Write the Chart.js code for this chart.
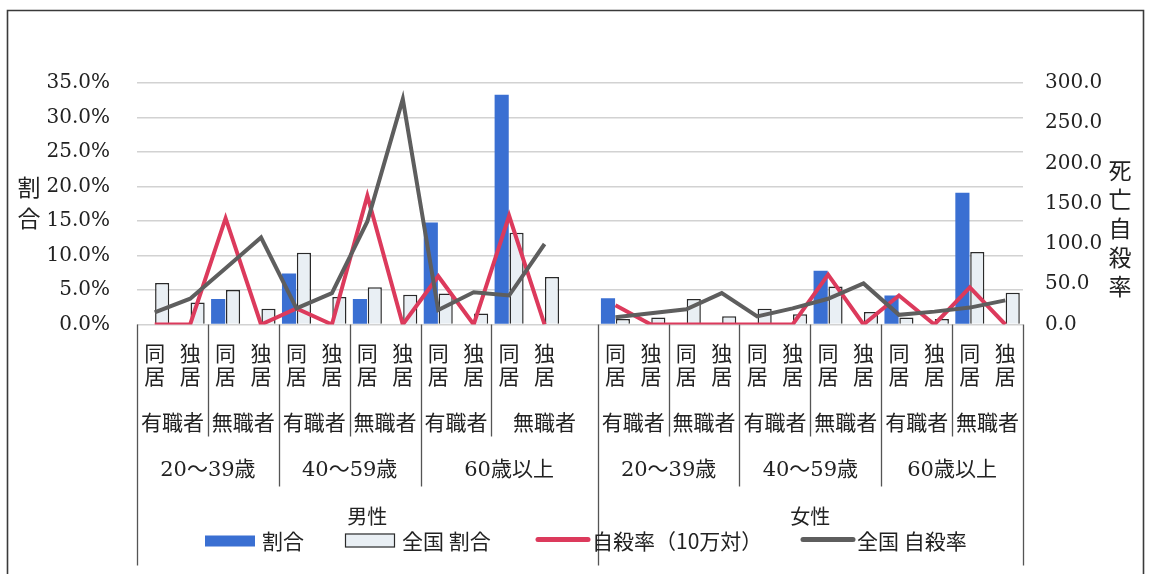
<!DOCTYPE html>
<html><head><meta charset="utf-8">
<script src="https://cdn.jsdelivr.net/npm/chart.js@4"></script>
<style>html,body{margin:0;padding:0;background:#fff;}canvas{display:block;}</style>
</head><body>
<canvas id="c" width="1152" height="574"></canvas>
<script>
// ---- category structure ----
const genders = ['男性', '女性'];
const ages = ['20～39歳', '40～59歳', '60歳以上'];
const jobs = ['有職者', '無職者'];
const livings = ['同居', '独居'];

// ---- values (per gender, 12 categories each: age × job × living) ----
const maleShare = [0, 0, 3.7, 0, 7.4, 0, 3.7, 0, 14.8, 0, 33.3, 0];
const femaleShare = [3.8, 0, 0, 0, 0, 0, 7.8, 0, 4.2, 0, 19.1, 0];
const maleNationalShare = [6.0, 3.2, 5.0, 2.3, 10.4, 4.0, 5.4, 4.3, 4.5, 1.6, 13.3, 6.9];
const femaleNationalShare = [0.8, 1.0, 3.7, 1.2, 2.3, 1.5, 5.5, 1.8, 1.0, 0.8, 10.5, 4.6];
const maleRate = [0, 0, 132, 0, 20, 0, 160, 0, 60, 0, 135, 0];
const femaleRate = [24, 0, 0, 0, 0, 0, 62, 0, 36, 0, 46, 0];
const maleNationalRate = [15, 32, 70, 108, 20, 39, 128, 280, 18, 40, 36, 100];
const femaleNationalRate = [9, 14, 19, 39, 10, 20, 32, 51, 12, 16, 21, 30];

// ---- axes ----
const shareAxis = { min: 0, max: 35, step: 5 };
const rateAxis = { min: 0, max: 300, step: 50 };
const seriesNames = ['割合', '全国 割合', '自殺率（10万対）', '全国 自殺率'];
const leftTitle = '割合';
const rightTitle = '死亡自殺率';

// build categories (a blank spacer column follows the male block)
const cats = [];
genders.forEach((g, gi) => {
  ages.forEach((a, ai) => jobs.forEach((j, ji) => livings.forEach(l => cats.push({ g: gi, a: ai, j: ji, label: l }))));
  if (gi === 0) cats.push({ g: 0, a: ages.length - 1, j: jobs.length - 1, label: '' });
});
const join = (m, f) => [...m, null, ...f];

const CJK = '"Noto Sans CJK JP"';
const SERIF = '"DejaVu Serif"';
const INK = '#222';

const structurePlugin = {
  id: 'structure',
  beforeDraw(chart) {
    const ctx = chart.ctx;
    ctx.save();
    ctx.fillStyle = '#fff';
    ctx.fillRect(0, 0, chart.width, chart.height);
    ctx.restore();
  },
  afterDraw(chart) {
    const ctx = chart.ctx, xs = chart.scales.x, area = chart.chartArea;
    const n = cats.length;
    const w = xs.getPixelForValue(1) - xs.getPixelForValue(0);
    const edge = b => b < n ? xs.getPixelForValue(b) - w / 2 : xs.getPixelForValue(n - 1) + w / 2;
    const base = area.bottom;
    ctx.save();
    // outer frame
    ctx.strokeStyle = '#3a3a3a';
    ctx.lineWidth = 1.6;
    ctx.beginPath();
    ctx.moveTo(7.5, chart.height + 2); ctx.lineTo(7.5, 10.5); ctx.lineTo(1143.5, 10.5); ctx.lineTo(1143.5, chart.height + 2);
    ctx.stroke();

    // divider lines of the category table
    ctx.strokeStyle = '#555';
    ctx.lineWidth = 1.3;
    for (let b = 0; b <= n; b++) {
      const p = cats[b - 1], q = cats[b];
      let len = 0;
      if (!p || !q || p.g !== q.g) len = 241;
      else if (p.a !== q.a) len = 162;
      else if (p.j !== q.j) len = 112;
      if (!len) continue;
      const x = Math.round(edge(b)) + 0.5;
      ctx.beginPath(); ctx.moveTo(x, base); ctx.lineTo(x, base + len); ctx.stroke();
    }

    // group labels
    ctx.fillStyle = INK;
    ctx.textAlign = 'center';
    ctx.textBaseline = 'middle';
    const runs = (key) => {
      const out = []; let s = 0;
      for (let i = 1; i <= n; i++) {
        if (i === n || key(cats[i]) !== key(cats[s])) { out.push([s, i]); s = i; }
      }
      return out;
    };
    ctx.font = '21px ' + CJK;
    runs(c => c.g + '-' + c.a + '-' + c.j).forEach(([s, e]) => {
      ctx.fillText(jobs[cats[s].j], (edge(s) + edge(e)) / 2, base + 98);
    });
    ctx.font = '21px ' + SERIF + ', ' + CJK;
    runs(c => c.g + '-' + c.a).forEach(([s, e]) => {
      ctx.fillText(ages[cats[s].a], (edge(s) + edge(e)) / 2, base + 146);
    });
    ctx.font = '20px ' + CJK;
    runs(c => '' + c.g).forEach(([s, e]) => {
      ctx.fillText(genders[cats[s].g], (edge(s) + edge(e)) / 2, base + 192);
    });

    // axis titles (stacked characters)
    ctx.font = '23px ' + CJK;
    [...leftTitle].forEach((ch, i) => ctx.fillText(ch, 29, 187 + i * 31));
    [...rightTitle].forEach((ch, i) => ctx.fillText(ch, 1120, 170 + i * 29));

    // legend (in series order)
    const ly = base + 216;
    ctx.font = '21px ' + CJK;
    ctx.textAlign = 'left';
    const startX = [205, 345, 535, 800];
    seriesNames.forEach((name, i) => {
      const d = chart.data.datasets.find(ds => ds.label === name);
      const x = startX[i];
      if (d.type === 'bar') {
        ctx.fillStyle = d.backgroundColor;
        if (d.borderWidth) {
          ctx.fillRect(x, ly - 7, 50, 14);
          ctx.strokeStyle = d.borderColor; ctx.lineWidth = 1.2;
          ctx.strokeRect(x + 0.5, ly - 6.5, 49, 13);
        } else {
          ctx.fillRect(x, ly - 5, 50, 11);
        }
      } else {
        ctx.strokeStyle = d.borderColor; ctx.lineWidth = 5; ctx.lineCap = 'round';
        ctx.beginPath(); ctx.moveTo(x + 3, ly - 1); ctx.lineTo(x + 53, ly - 1); ctx.stroke();
      }
      ctx.fillStyle = INK;
      ctx.fillText(d.label, x + 57, ly + 1);
    });
    ctx.restore();
  }
};

new Chart(document.getElementById('c'), {
  data: {
    labels: cats.map(c => c.label ? c.label.split('') : ''),
    datasets: [
      { type: 'line', label: seriesNames[2], data: join(maleRate, femaleRate), yAxisID: 'y1',
        borderColor: '#dc3a5c', borderWidth: 4, pointRadius: 0, tension: 0, order: 1 },
      { type: 'line', label: seriesNames[3], data: join(maleNationalRate, femaleNationalRate), yAxisID: 'y1',
        borderColor: '#5e5e5e', borderWidth: 4, pointRadius: 0, tension: 0, order: 0 },
      { type: 'bar', label: seriesNames[0], data: join(maleShare, femaleShare), yAxisID: 'y',
        backgroundColor: '#3a6fd2', borderWidth: 0, order: 2, categoryPercentage: 0.84, barPercentage: 0.95 },
      { type: 'bar', label: seriesNames[1], data: join(maleNationalShare, femaleNationalShare), yAxisID: 'y',
        backgroundColor: '#e9eff4', borderColor: '#2a2a2a', borderWidth: 1.5, order: 2, categoryPercentage: 0.84, barPercentage: 0.95 }
    ]
  },
  options: {
    responsive: false, animation: false, devicePixelRatio: 1,
    layout: { padding: { top: 83, left: 0, right: 0, bottom: 0 } },
    plugins: { legend: { display: false }, tooltip: { enabled: false } },
    scales: {
      x: {
        type: 'category',
        grid: { display: false, drawTicks: false }, border: { display: false },
        ticks: { autoSkip: false, maxRotation: 0, minRotation: 0, padding: 17, color: INK,
          font: { family: CJK, size: 21, lineHeight: 1.1 } },
        afterFit(s) { s.height = 249.5; }
      },
      y: {
        position: 'left', min: shareAxis.min, max: shareAxis.max,
        ticks: { stepSize: shareAxis.step, padding: 27, color: INK, font: { family: SERIF, size: 20 },
          callback: v => v.toFixed(1) + '%' },
        grid: { color: '#d2d2d2', lineWidth: 1.5, drawTicks: false }, border: { display: false },
        afterFit(s) { s.width = 137; }
      },
      y1: {
        position: 'right', min: rateAxis.min, max: rateAxis.max,
        ticks: { stepSize: rateAxis.step, padding: 22, color: INK, font: { family: SERIF, size: 20 },
          callback: v => v.toFixed(1) },
        grid: { display: false, drawTicks: false }, border: { display: false },
        afterFit(s) { s.width = 129; }
      }
    }
  },
  plugins: [structurePlugin]
});
</script>
</body></html>
